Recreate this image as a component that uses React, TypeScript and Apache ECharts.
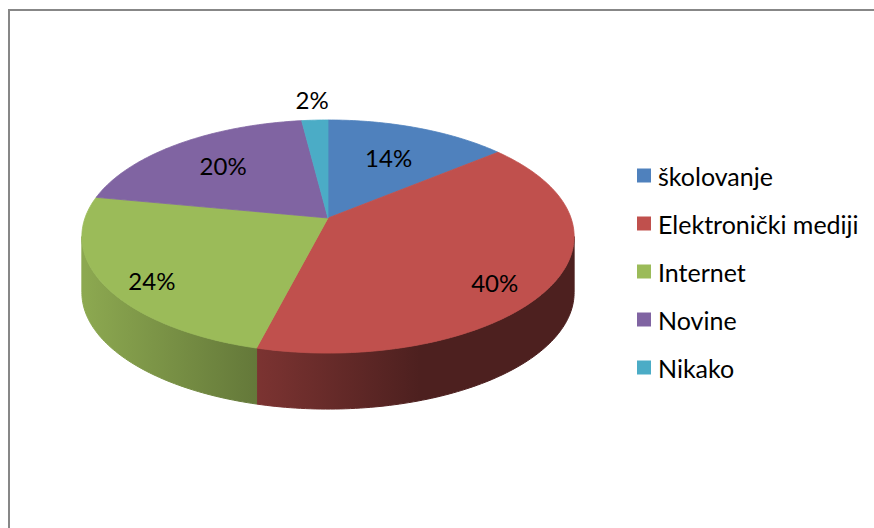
import React, { useEffect, useRef } from "react";
import * as echarts from "echarts";

const CATEGORIES = ["školovanje", "Elektronički mediji", "Internet", "Novine", "Nikako"];
const VALUES = [14, 40, 24, 20, 2];
const COLORS = ["#4F81BD", "#C0504D", "#9BBB59", "#8064A2", "#4BACC6"];

// geometry / style constants (not data)
const CX = 328;
const CY = 218;
const RX = 243;
const RY = 113.6;
const K = 0.159; // perspective
const DEPTH = 56;
const LABEL_PLACE = [
  { r: 0.64, dy: 0 },
  { r: 0.76, dy: 15 },
  { r: 0.8, dy: 10 },
  { r: 0.68, dy: 0 },
  { r: 1.25, dy: 0 },
];
const FONT = "Lato, 'Open Sans', sans-serif";

function project(deg: number, r: number): [number, number] {
  const t = (deg * Math.PI) / 180;
  const u = r * Math.sin(t);
  const v = -r * Math.cos(t);
  const s = 1 / (1 - K * v);
  return [CX + RX * u * s, CY + RY * v * s];
}

function shade(hex: string, f: number): string {
  const n = parseInt(hex.slice(1), 16);
  const r = Math.round(((n >> 16) & 255) * f);
  const g = Math.round(((n >> 8) & 255) * f);
  const b = Math.round((n & 255) * f);
  return `rgb(${r},${g},${b})`;
}

const TOTAL = VALUES.reduce((a, b) => a + b, 0);
const CUM: number[] = VALUES.map((_, i) => VALUES.slice(0, i).reduce((a, b) => a + b, 0));
const THETA_S = (Math.acos(-K) * 180) / Math.PI;

function makeRender(idx: number) {
  return (params: any, api: any) => {
    const value = api.value(0);
    const before = api.value(1);
    const a1 = (before / TOTAL) * 360;
    const a2 = ((before + value) / TOTAL) * 360;
    const color = COLORS[idx];
    const children: any[] = [];

    // side wall
    const w1 = Math.max(a1, THETA_S);
    const w2 = Math.min(a2, 360 - THETA_S);
    if (w2 > w1) {
      const top: number[][] = [];
      const bot: number[][] = [];
      const n = Math.max(2, Math.ceil(w2 - w1));
      for (let i = 0; i <= n; i++) {
        const th = w1 + ((w2 - w1) * i) / n;
        const p = project(th, 1);
        top.push(p);
        bot.push([p[0], p[1] + DEPTH]);
      }
      const grad = {
        type: "linear",
        x: 85,
        y: 0,
        x2: 420,
        y2: 0,
        global: true,
        colorStops: [
          { offset: 0, color: shade(color, 0.9) },
          { offset: 1, color: shade(color, 0.4) },
        ],
      };
      children.push({
        type: "polygon",
        z2: 0,
        shape: { points: top.concat(bot.reverse()) },
        style: { fill: grad, stroke: grad, lineWidth: 1 },
      });
    }

    // top face
    const pts: number[][] = [[CX, CY]];
    const m = Math.max(2, Math.ceil(a2 - a1));
    for (let i = 0; i <= m; i++) {
      pts.push(project(a1 + ((a2 - a1) * i) / m, 1));
    }
    children.push({
      type: "polygon",
      z2: 1,
      shape: { points: pts },
      style: { fill: color, stroke: color, lineWidth: 0.8 },
    });

    // label
    const mid = (a1 + a2) / 2;
    const lp = LABEL_PLACE[idx];
    const p = project(mid, lp.r);
    children.push({
      type: "text",
      z2: 10,
      x: p[0],
      y: p[1] + lp.dy,
      style: {
        text: `${value}%`,
        fill: "#000",
        fontSize: 24,
        fontFamily: FONT,
        align: "center",
        verticalAlign: "middle",
      },
    });

    return { type: "group", children };
  };
}

export default function App() {
  const ref = useRef<HTMLDivElement>(null);
  useEffect(() => {
    if (!ref.current) return;
    const chart = echarts.init(ref.current, null, { renderer: "svg" });
    chart.setOption({
      animation: false,
      backgroundColor: "#ffffff",
      legend: {
        orient: "vertical",
        left: 637,
        top: 163,
        padding: 0,
        itemWidth: 14,
        itemHeight: 14,
        itemGap: 23,
        icon: "rect",
        data: CATEGORIES,
        textStyle: {
          color: "#000",
          fontSize: 25,
          fontFamily: FONT,
          lineHeight: 25,
          padding: [0, 0, 0, 2],
        },
        selectedMode: false,
      },
      graphic: [
        {
          type: "rect",
          silent: true,
          shape: { x: 9, y: 10, width: 1000, height: 1000 },
          style: { fill: "none", stroke: "#878787", lineWidth: 2 },
        },
      ],
      series: VALUES.map((v, i) => ({
        type: "custom",
        name: CATEGORIES[i],
        coordinateSystem: "none",
        itemStyle: { color: COLORS[i] },
        data: [[v, CUM[i]]],
        renderItem: makeRender(i),
      })),
    });
    return () => chart.dispose();
  }, []);
  return (
    <div
      ref={ref}
      style={{ position: "absolute", left: 0, top: 0, width: 874, height: 528 }}
    />
  );
}
